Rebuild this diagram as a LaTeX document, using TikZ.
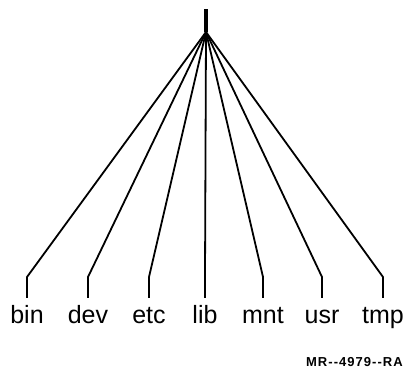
\documentclass[tikz,border=0pt]{standalone}
\usepackage{fontspec}
\setmainfont{Liberation Sans}
\newfontfamily\figfont[LetterSpace=8]{Liberation Sans}
\usepackage{tikz}

\tikzset{
  dir/.style={font=\fontsize{25}{25}\selectfont,text height=18pt,text depth=5pt,
              inner xsep=0pt,inner ysep=7pt,anchor=base},
  branch/.style={line width=1.8pt,line join=round},
  stem/.style={line width=3.2pt}
}

\begin{document}
\begin{tikzpicture}[x=1pt,y=-1pt]
                \useasboundingbox (0,0) rectangle (414,368);
                \coordinate (top) at (206,9);
                \coordinate (hub) at (206,32);
                \draw[stem] (top) -- (hub);
                % leaves
                \node[dir] (bin) at (27,323) {bin};
                \node[dir] (dev) at (88,323) {dev};
                \node[dir] (etc) at (149,323) {etc};
                \node[dir] (lib) at (205,323) {lib};
                \node[dir] (mnt) at (263,323) {mnt};
                \node[dir] (usr) at (322,323) {usr};
                \node[dir] (tmp) at (383,323) {tmp};
                % knees
                \coordinate (k-bin) at (27,277);
                \coordinate (k-dev) at (88,277);
                \coordinate (k-etc) at (149,277);
                \coordinate (k-lib) at (205,277);
                \coordinate (k-mnt) at (263,277);
                \coordinate (k-usr) at (322,277);
                \coordinate (k-tmp) at (383,277);
                \foreach \d in {bin,dev,etc,lib,mnt,usr,tmp}
                  \draw[branch] (hub) -- (k-\d) -- (\d.north);
                \node[anchor=base east,inner sep=0pt,font=\figfont\bfseries\fontsize{13}{13}\selectfont] (code) at (403,366) {MR-{}-4979-{}-RA};
            \end{tikzpicture}
\end{document}
